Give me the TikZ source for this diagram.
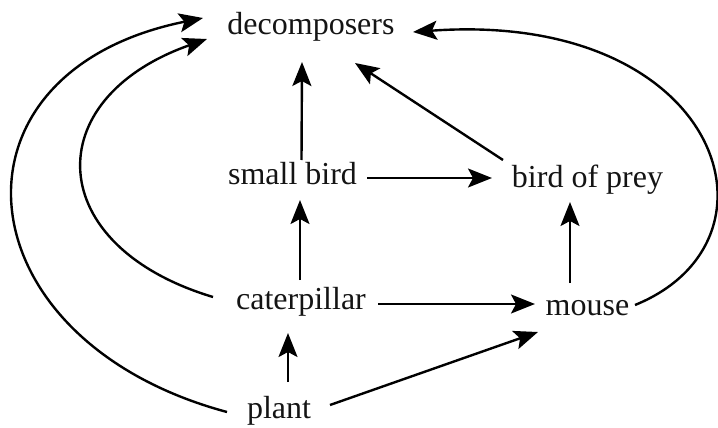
\documentclass[tikz,border=0pt]{standalone}
\usepackage{fontspec}
\setmainfont{Liberation Serif}
\usetikzlibrary{arrows.meta}
\begin{document}
\begin{tikzpicture}[x=1pt,y=1pt,
  lbl/.style={anchor=base, inner sep=0pt, text=black!92, font=\fontsize{32}{38}\selectfont},
  arr/.style={-{Stealth[length=24pt,width=19pt,inset=5pt]}, line width=2.4pt}]
\useasboundingbox (0,0) rectangle (718,-428);
\node[lbl] (dec) at (311,-35) {decomposers};
\node[lbl] (sb) at (292.5,-184) {small bird};
\node[lbl] (bop) at (587.5,-187) {bird of prey};
\node[lbl] (cat) at (301,-309) {caterpillar};
\node[lbl] (mouse) at (587.5,-315) {mouse};
\node[lbl] (plant) at (279,-418) {plant};
% straight arrows
\draw[arr] ([shift={(9,24)}]sb.base) -- ([shift={(-9,-27)}]dec.base);
\draw[arr] ([shift={(-1,29)}]cat.base) -- ([shift={(7.5,-16)}]sb.base);
\draw[arr] ([shift={(9,36)}]plant.base) -- ([shift={(-13,-24)}]cat.base);
\draw[arr] ([shift={(74.5,6)}]sb.base) -- ([shift={(-95.5,9)}]bop.base);
\draw[arr] ([shift={(-84.5,27)}]bop.base) -- ([shift={(44,-28)}]dec.base);
\draw[arr] ([shift={(-17.5,32)}]mouse.base) -- ([shift={(-17.5,-15)}]bop.base);
\draw[arr] ([shift={(77,5)}]cat.base) -- ([shift={(-52.5,11)}]mouse.base);
\draw[arr] ([shift={(51,13)}]plant.base) -- ([shift={(-49.5,-17)}]mouse.base);
% curved arrows
\draw[arr] ([shift={(-52,6)}]plant.base) .. controls +(-268,72) and +(-268,-54) .. ([shift={(-108,17)}]dec.base);
\draw[arr] ([shift={(-88,12)}]cat.base) .. controls +(-170,51) and +(-170,-60) .. ([shift={(-104,-4)}]dec.base);
\draw[arr] ([shift={(47.5,10)}]mouse.base) .. controls +(160,65) and +(307,22) .. ([shift={(102,3)}]dec.base);
\end{tikzpicture}
\end{document}
